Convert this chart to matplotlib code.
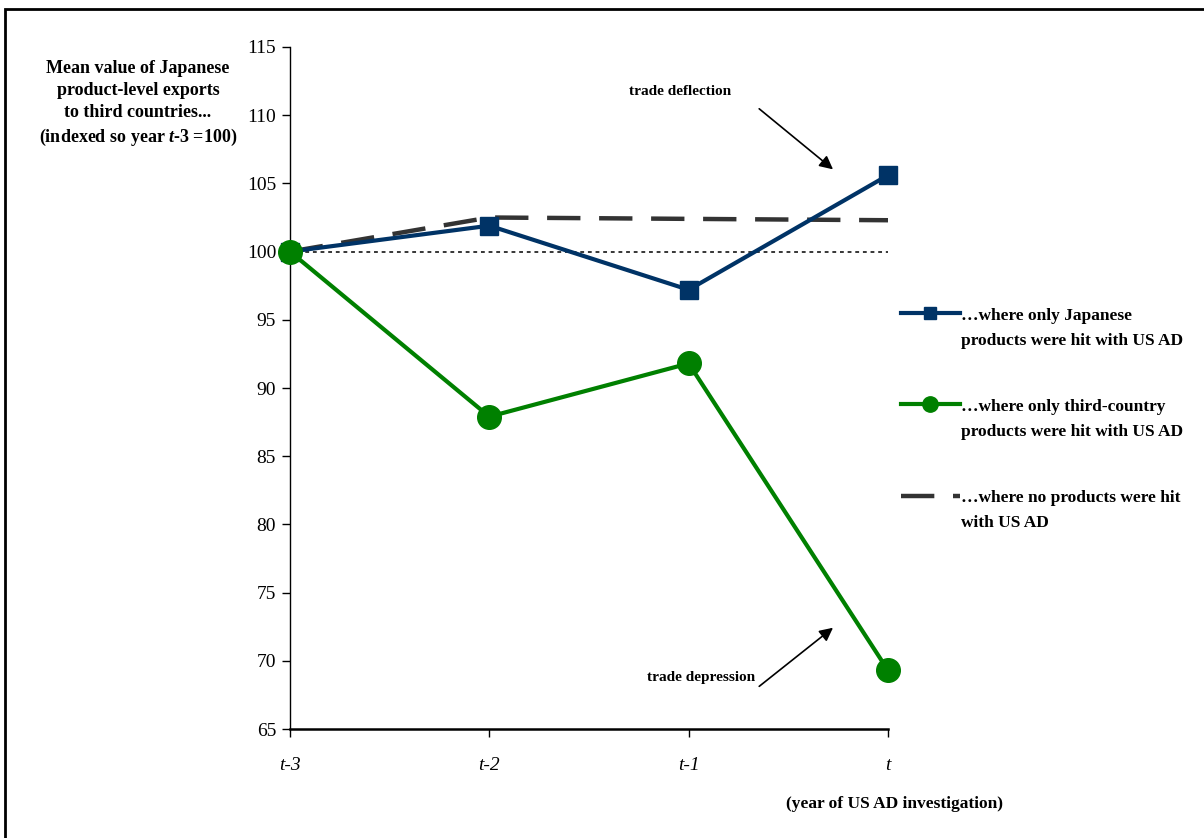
import numpy as np
import matplotlib.pyplot as plt
from matplotlib.patches import Rectangle
from matplotlib.legend_handler import HandlerLine2D

plt.rcParams['font.family'] = ['Liberation Serif', 'DejaVu Serif']
plt.rcParams['mathtext.fontset'] = 'custom'
plt.rcParams['mathtext.it'] = 'Liberation Serif:italic:bold'
plt.rcParams['mathtext.rm'] = 'Liberation Serif:bold'

# data
years = ['t-3', 't-2', 't-1', 't']
japan_hit = [100, 101.9, 97.2, 105.6]
third_hit = [100, 87.9, 91.8, 69.3]
none_hit = [100, 102.5, 102.4, 102.3]
y_ticks = [65, 70, 75, 80, 85, 90, 95, 100, 105, 110, 115]

blue = '#003366'
green = '#008000'
grey = '#333333'


# legend handle sits level with the first line of the two-line label
class TopLineHandler(HandlerLine2D):
    def create_artists(self, legend, orig_handle, xdescent, ydescent, width, height,
                       fontsize, trans):
        arts = super().create_artists(legend, orig_handle, xdescent, ydescent, width,
                                      height, fontsize, trans)
        for a in arts:
            a.set_ydata(np.asarray(a.get_ydata()) + 10.8)
        return arts


fig = plt.figure(figsize=(12.04, 8.38), dpi=100)
ax = fig.add_axes([290 / 1204, 1 - 729 / 838, 598 / 1204, 682 / 838])

x = range(len(years))
ax.plot(x, [100] * len(years), color='black', linestyle=(0, (2.5, 2.5)), linewidth=1.1, zorder=1)
l3, = ax.plot(x, none_hit, color=grey, linestyle=(0, (7.5, 4.2)), linewidth=3.2, zorder=2,
              label='\u2026where no products were hit\nwith US AD')
l1, = ax.plot(x, japan_hit, color=blue, marker='s', markersize=13, linewidth=3, zorder=3,
              clip_on=False, label='\u2026where only Japanese\nproducts were hit with US AD')
l2, = ax.plot(x, third_hit, color=green, marker='o', markersize=17, linewidth=3, zorder=4,
              clip_on=False, label='\u2026where only third-country\nproducts were hit with US AD')

ax.set_xlim(0, 3)
ax.set_ylim(65, 115)
ax.set_yticks(y_ticks)
ax.set_xticks(list(x))
ax.set_xticklabels(years, fontstyle='italic', fontsize=14)
ax.tick_params(axis='y', labelsize=14, direction='out', length=6, width=1, pad=4)
ax.tick_params(axis='x', direction='out', length=6, width=1, pad=14)
for s in ['top', 'right']:
    ax.spines[s].set_visible(False)
ax.spines['left'].set_linewidth(1)
ax.spines['bottom'].set_linewidth(1.8)

leg = fig.legend(handles=[l1, l2, l3], loc='upper left', bbox_to_anchor=(885 / 1204, 1 - 292 / 838),
                 frameon=False, handlelength=3.4, handletextpad=0.1, labelspacing=2.85,
                 prop={'weight': 'bold', 'size': 12.5}, markerscale=0.65,
                 handler_map={l1: TopLineHandler(), l2: TopLineHandler(), l3: TopLineHandler()})
for t in leg.get_texts():
    t.set_linespacing(1.8)

fig.text(138 / 1204, 1 - 104 / 838,
         'Mean value of Japanese\nproduct-level exports\nto third countries...\n(indexed so year $t$-$3$ =100)',
         ha='center', va='center', fontsize=13, fontweight='bold', linespacing=1.4)

ax.annotate('trade deflection', xy=(1.957, 111.75), fontsize=11, fontweight='bold',
            ha='center', va='center')
ax.annotate('', xy=(2.735, 105.9), xytext=(2.343, 110.6),
            arrowprops=dict(arrowstyle='-|>', color='black', lw=1.2, mutation_scale=20))
ax.annotate('trade depression', xy=(2.062, 68.74), fontsize=11, fontweight='bold',
            ha='center', va='center')
ax.annotate('', xy=(2.735, 72.55), xytext=(2.343, 68.0),
            arrowprops=dict(arrowstyle='-|>', color='black', lw=1.2, mutation_scale=20))

fig.text(895 / 1204, 1 - 804 / 838, '(year of US AD investigation)',
         ha='center', va='center', fontsize=12.5, fontweight='bold')

fig.patches.append(Rectangle((5 / 1204, -0.1), 1.2, 1.1 - 9 / 838, transform=fig.transFigure,
                             fill=False, edgecolor='black', linewidth=2))

fig.savefig('out.png', dpi=100)
